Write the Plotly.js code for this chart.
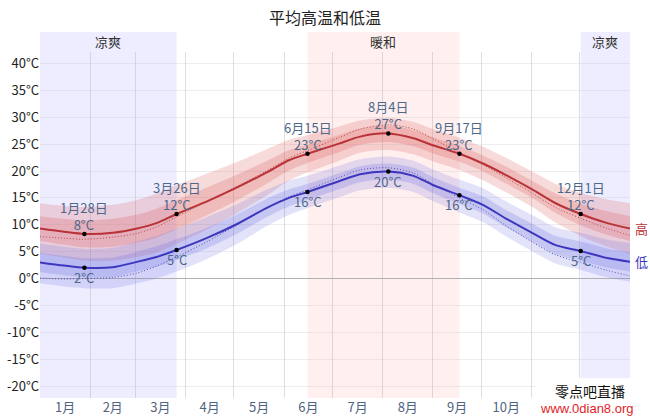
<!DOCTYPE html>
<html>
<head>
<meta charset="utf-8">
<script src="https://cdn.plot.ly/plotly-3.0.1.min.js"></script>
<style>html,body{margin:0;padding:0;background:#fff;}#chart{width:650px;height:419px;}</style>
</head>
<body>
<div id="chart"></div>
<script>
// ---- data (day of year, Jan 1 = 0) ----
const days = [0, 15, 27.5, 45, 60, 72, 84.5, 103, 121, 140, 154, 165.5, 185, 198, 215.5, 231, 243, 259.5, 274, 288, 305, 319, 334.5, 351, 365];
const highAvg = [9.3, 8.7, 8.3, 8.5, 9.3, 10.3, 12.0, 14.3, 16.8, 19.7, 22.0, 23.2, 25.1, 26.4, 27.0, 26.1, 24.8, 23.2, 21.4, 19.3, 16.5, 14.0, 12.0, 10.3, 9.3];
const highP90 = [14.0, 13.5, 13.3, 13.7, 14.6, 15.8, 17.4, 19.5, 21.6, 24.0, 25.8, 26.7, 28.3, 29.4, 29.9, 29.1, 27.8, 26.2, 24.5, 22.5, 19.8, 17.6, 15.9, 14.7, 14.0];
const highP75 = [11.6, 11.1, 10.8, 11.1, 11.9, 13.0, 14.6, 16.9, 19.2, 21.8, 23.9, 24.9, 26.7, 27.9, 28.4, 27.6, 26.3, 24.7, 22.9, 20.9, 18.1, 15.8, 13.9, 12.5, 11.6];
const highP25 = [7.0, 6.3, 5.8, 5.9, 6.7, 7.6, 9.2, 11.7, 14.4, 17.6, 20.1, 21.5, 23.5, 24.9, 25.4, 24.6, 23.3, 21.7, 19.9, 17.7, 14.9, 12.2, 9.9, 8.1, 7.0];
const highP10 = [4.6, 3.9, 3.3, 3.3, 4.0, 4.8, 6.4, 9.1, 12.0, 15.4, 18.2, 19.7, 21.9, 23.4, 23.9, 23.1, 21.8, 20.2, 18.3, 16.1, 13.2, 10.4, 7.9, 5.9, 4.6];
const highFeel = [7.8, 7.5, 7.3, 7.7, 8.4, 9.6, 11.5, 14.3, 17.0, 20.0, 22.4, 23.8, 26.2, 27.8, 28.6, 27.8, 26.0, 23.4, 21.2, 18.8, 15.8, 13.2, 11.2, 9.3, 8.0];
const lowAvg = [3.0, 2.4, 2.0, 2.1, 3.1, 4.0, 5.3, 7.5, 10.0, 13.1, 15.0, 16.1, 18.1, 19.4, 19.9, 19.1, 17.4, 15.5, 13.7, 11.2, 8.4, 6.2, 5.1, 3.8, 3.1];
const lowP90 = [6.5, 5.9, 5.5, 5.7, 6.9, 7.9, 9.3, 11.4, 13.7, 16.5, 18.2, 19.1, 21.0, 22.2, 22.7, 21.9, 20.3, 18.4, 16.8, 14.4, 11.7, 9.5, 8.5, 7.2, 6.6];
const lowP75 = [4.8, 4.2, 3.8, 3.9, 5.0, 6.0, 7.3, 9.4, 11.8, 14.8, 16.6, 17.6, 19.6, 20.9, 21.4, 20.6, 18.9, 16.9, 15.3, 12.8, 10.1, 7.9, 6.9, 5.6, 4.9];
const lowP25 = [1.2, 0.6, 0.2, 0.3, 1.3, 2.2, 3.5, 5.6, 8.2, 11.4, 13.4, 14.6, 16.6, 17.9, 18.4, 17.6, 15.9, 13.9, 12.1, 9.6, 6.8, 4.5, 3.3, 2.0, 1.3];
const lowP10 = [-0.9, -1.5, -1.8, -1.8, -0.9, 0.0, 1.3, 3.6, 6.3, 9.7, 11.8, 13.1, 15.1, 16.4, 16.9, 16.1, 14.4, 12.3, 10.5, 7.9, 5.0, 2.8, 1.6, 0.2, -0.6];
const lowFeel = [0.1, -0.1, 0.0, 0.2, 1.0, 2.3, 4.0, 6.8, 9.8, 13.0, 15.2, 16.5, 18.8, 20.2, 20.6, 19.6, 17.6, 15.0, 12.8, 9.9, 6.7, 4.4, 3.0, 1.5, 0.5];

const markDays = [27.5, 84.5, 165.5, 215.5, 259.5, 334.5];
const markDates = ["1月28日", "3月26日", "6月15日", "8月4日", "9月17日", "12月1日"];
const markHigh = [8.3, 12.0, 23.2, 27.0, 23.2, 12.0];
const markHighText = ["8°C", "12°C", "23°C", "27°C", "23°C", "12°C"];
const markLow = [2.0, 5.3, 16.1, 19.9, 15.5, 5.1];
const markLowText = ["2°C", "5°C", "16°C", "20°C", "16°C", "5°C"];

// month labels visible in the reference (11月/12月 are hidden under the watermark)
const monthCenters = [15.5, 45, 74.5, 105, 135.5, 166, 196.5, 227.5, 258, 288.5];
const monthLabels = ["1月", "2月", "3月", "4月", "5月", "6月", "7月", "8月", "9月", "10月"];
const monthStarts = [31, 59, 90, 120, 151, 181, 212, 243, 273, 304, 334];
const yTickVals = [-20, -15, -10, -5, 0, 5, 10, 15, 20, 25, 30, 35, 40];
const yTickText = ["-20°C", "-15°C", "-10°C", "-5°C", "0°C", "5°C", "10°C", "15°C", "20°C", "25°C", "30°C", "35°C", "40°C"];

const seasonNames = ["凉爽", "暖和", "凉爽"];
const seasonStart = [0, 165.5, 334.5];
const seasonEnd = [84.5, 259.5, 365];
const seasonKinds = ["cool", "warm", "cool"];

const watermarkName = "零点吧直播";
const watermarkUrl = "www.0dian8.org";

// ---- styles ----
const FONT = '"Noto Sans CJK SC", "Noto Sans", sans-serif';
const RED = 'rgb(185,50,55)';
const BLUE = 'rgb(60,55,190)';
const LABEL = 'rgb(78,104,138)';
const line0 = {width: 0, shape: 'spline', smoothing: 0.8};

function band(lo, hi, color) {
  return [
    {x: days, y: lo, type: 'scatter', mode: 'lines', line: line0, hoverinfo: 'skip', showlegend: false},
    {x: days, y: hi, type: 'scatter', mode: 'lines', line: line0, fill: 'tonexty', fillcolor: color, hoverinfo: 'skip', showlegend: false}
  ];
}

const traces = [].concat(
  band(highP10, highP90, 'rgba(220,90,90,0.22)'),
  band(highP25, highP75, 'rgba(220,90,90,0.25)'),
  band(lowP10, lowP90, 'rgba(110,110,225,0.20)'),
  band(lowP25, lowP75, 'rgba(110,110,225,0.24)'),
  [
    {x: days, y: highFeel, type: 'scatter', mode: 'lines', line: {color: 'rgba(170,60,60,0.9)', width: 1, dash: '1px,2px', shape: 'spline', smoothing: 0.8}, showlegend: false},
    {x: days, y: lowFeel, type: 'scatter', mode: 'lines', line: {color: 'rgba(70,65,180,0.9)', width: 1, dash: '1px,2px', shape: 'spline', smoothing: 0.8}, showlegend: false},
    {x: days, y: highAvg, type: 'scatter', mode: 'lines', line: {color: RED, width: 2, shape: 'spline', smoothing: 0.8}, showlegend: false},
    {x: days, y: lowAvg, type: 'scatter', mode: 'lines', line: {color: BLUE, width: 2, shape: 'spline', smoothing: 0.8}, showlegend: false},
    {x: markDays, y: markHigh, type: 'scatter', mode: 'markers', marker: {color: '#000', size: 4.5}, showlegend: false, cliponaxis: false},
    {x: markDays, y: markLow, type: 'scatter', mode: 'markers', marker: {color: '#000', size: 4.5}, showlegend: false, cliponaxis: false}
  ]
);

const shapes = seasonNames.map((n, i) => ({
  type: 'rect', xref: 'x', yref: 'paper', x0: seasonStart[i], x1: seasonEnd[i], y0: 0, y1: 1.058,
  fillcolor: seasonKinds[i] === 'cool' ? 'rgba(220,220,255,0.5)' : 'rgba(255,225,225,0.55)',
  line: {width: 0}, layer: 'below'
}));
// white box behind watermark
shapes.push({type: 'rect', xref: 'paper', yref: 'paper', x0: 0.84, x1: 1.04, y0: -0.07, y1: 0.057,
  fillcolor: '#fff', line: {width: 0}, layer: 'above'});

const annotations = seasonNames.map((n, i) => ({
  x: (seasonStart[i] + seasonEnd[i]) / 2, xref: 'x', xanchor: 'center', y: 1.03, yref: 'paper', yanchor: 'middle',
  text: n, showarrow: false, font: {family: FONT, size: 13, color: '#333'}
}));
markDays.forEach((d, i) => {
  annotations.push({x: d, y: markHigh[i], xref: 'x', yref: 'y', xanchor: 'center', yanchor: 'bottom', yshift: -2,
    text: markDates[i] + '<br>' + markHighText[i], showarrow: false,
    font: {family: FONT, size: 13, color: LABEL}});
  annotations.push({x: d, y: markLow[i], xref: 'x', yref: 'y', xanchor: 'center', yanchor: 'top', yshift: 2,
    text: markLowText[i], showarrow: false, font: {family: FONT, size: 13, color: LABEL}});
});
annotations.push({x: 1, xref: 'paper', xanchor: 'left', xshift: 3, y: highAvg[highAvg.length - 1], yref: 'y',
  text: '高', showarrow: false, font: {family: FONT, size: 13, color: RED}});
annotations.push({x: 1, xref: 'paper', xanchor: 'left', xshift: 3, y: lowAvg[lowAvg.length - 1], yref: 'y',
  text: '低', showarrow: false, font: {family: FONT, size: 13, color: BLUE}});
annotations.push({x: 0.932, xref: 'paper', xanchor: 'center', y: 0.020, yref: 'paper', yanchor: 'middle',
  text: watermarkName, showarrow: false, font: {family: FONT, size: 14, color: '#111'}});
annotations.push({x: 0.927, xref: 'paper', xanchor: 'center', y: -0.029, yref: 'paper', yanchor: 'middle',
  text: watermarkUrl, showarrow: false, font: {family: '"Liberation Sans Narrow", "Liberation Sans", Arial, sans-serif', size: 13, color: 'rgb(225,30,40)'}});

const layout = {
  width: 650, height: 419,
  margin: {l: 40, r: 20, t: 52, b: 21},
  paper_bgcolor: '#fff', plot_bgcolor: 'rgba(0,0,0,0)',
  font: {family: FONT, size: 13, color: '#333'},
  title: {text: '平均高温和低温', x: 0.5, xref: 'container', y: 0.957, yref: 'container', yanchor: 'middle',
          font: {family: FONT, size: 16, color: '#222'}},
  showlegend: false,
  xaxis: {range: [0, 365], tickmode: 'array', tickvals: monthCenters, ticktext: monthLabels,
          showgrid: false, zeroline: false, showline: false, ticks: '',
          tickfont: {family: FONT, size: 13, color: 'rgb(80,100,128)'},
          minor: {tickmode: 'array', tickvals: monthStarts, showgrid: true, gridcolor: 'rgba(180,180,190,0.45)', gridwidth: 1, ticks: ''},
          fixedrange: true},
  yaxis: {range: [-22.23, 42.14], tickmode: 'array', tickvals: yTickVals, ticktext: yTickText,
          showgrid: true, gridcolor: 'rgba(200,200,200,0.3)', zeroline: true, zerolinecolor: '#b0b0b0', zerolinewidth: 1,
          showline: false, ticks: '', tickfont: {family: FONT, size: 13, color: '#222'}, fixedrange: true},
  shapes: shapes,
  annotations: annotations
};

Plotly.newPlot('chart', traces, layout, {displayModeBar: false, staticPlot: true});
</script>
</body>
</html>
